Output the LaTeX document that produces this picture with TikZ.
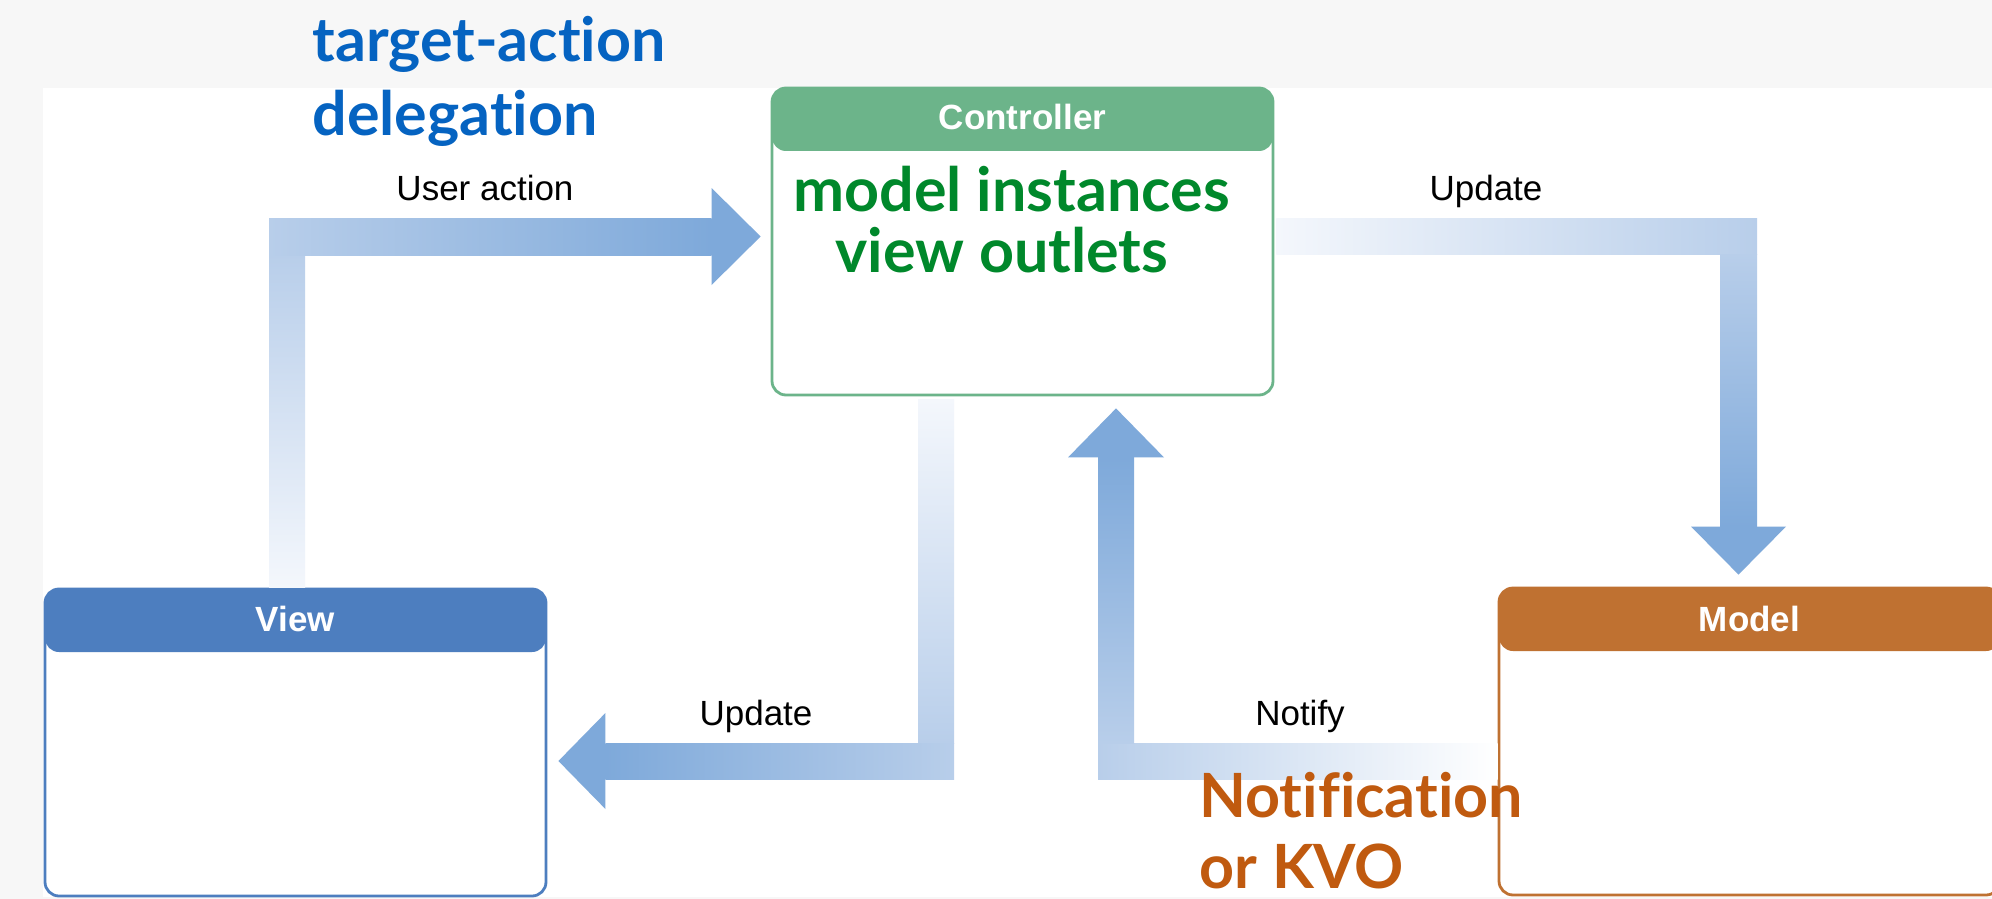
\documentclass[tikz,border=0pt]{standalone}
\usepackage{fontspec}
\setmainfont{Liberation Sans}
\newfontfamily\gill[Ligatures=NoCommon]{Lato}
\usepackage{tikz}
\usetikzlibrary{calc, positioning}
\definecolor{pagegray}{HTML}{F7F7F7}
\definecolor{ctrlgreen}{HTML}{6CB48A}
\definecolor{viewblue}{HTML}{4D7EBF}
\definecolor{modelorange}{HTML}{BF7131}
\definecolor{noteblue}{HTML}{0563C1}
\definecolor{notegreen}{HTML}{00882B}
\definecolor{noteorange}{HTML}{C05A0F}
\definecolor{arrowhead}{HTML}{7EA9DA}
\definecolor{arrowmid}{HTML}{B8CEEA}
\definecolor{arrowpale}{HTML}{F4F7FC}
\tikzset{box/.style={draw=#1, line width=1.4pt, fill=white, rounded corners=7pt,
	minimum width=250.5pt, minimum height=153.5pt,
	path picture={\fill[#1] (path picture bounding box.north west) rectangle ([yshift=-31.5pt]path picture bounding box.north east);}}}
\tikzset{note/.style={text=#1, font=\gill\bfseries\fontsize{30.5}{36}\selectfont, anchor=base west, inner sep=0pt}}
\tikzstyle{head}=[text=white, font=\bfseries\fontsize{17.5}{21}\selectfont, anchor=base, inner sep=0pt]
\tikzstyle{tag}=[font=\fontsize{17.5}{21}\selectfont, anchor=base, inner sep=0pt]
\tikzstyle{tip}=[fill=arrowhead]

\begin{document}
\begin{tikzpicture}[x=0.5pt, y=-0.5pt]
		\useasboundingbox (0,0) rectangle (1992,899);
		\fill[pagegray] (0,0) rectangle (1992,899);
		\fill[white] (43,88) rectangle (1992,897);
		%---------------------
		\node[box=ctrlgreen] (ctrl) at (1022.5,241.5) {};
		\node[box=viewblue] (view) at (295.5,742.5) {};
		\node[box=modelorange] (model) at (1749.5,741.5) {};
		\node[head] (ctrlhead) at ([yshift=-21.5pt]ctrl.north) {Controller};
		\node[head] (viewhead) at ([yshift=-22pt]view.north) {View};
		\node[head] (modelhead) at ([yshift=-22.5pt]model.north) {Model};
		%---------------------
		% user action: view -> controller
		\coordinate (ua1) at ($(view.north)+(-8.5,0)$);
		\coordinate (ua2) at ($(ua1 |- ctrl.west)+(0,-5)$);
		\coordinate (ua3) at ($(ctrl.west)+(-10,-5)$);
		\shade[bottom color=arrowpale, top color=arrowmid] ($(ua1)+(-18,0)$) rectangle ($(ua2)+(18,18)$);
		\shade[left color=arrowmid, right color=arrowhead] ($(ua2)+(-18,-18.5)$) rectangle ($(ua3)+(-49,18.5)$);
		\fill[tip] ($(ua3)+(-49,-48.5)$) -- (ua3) -- ($(ua3)+(-49,48.5)$) -- cycle;
		% update: controller -> model
		\coordinate (cm1) at ($(ctrl.east)+(2,-5)$);
		\coordinate (cm2) at ($(cm1 -| model.north)+(-11,0)$);
		\coordinate (cm3) at ($(model.north)+(-11,-12)$);
		\shade[left color=arrowpale, right color=arrowmid] ($(cm1)+(0,-18)$) rectangle ($(cm2)+(18.5,18)$);
		\shade[top color=arrowmid, bottom color=arrowhead] ($(cm2)+(-18.5,18)$) rectangle ($(cm3)+(18.5,-48)$);
		\fill[tip] ($(cm3)+(-47.5,-48)$) -- (cm3) -- ($(cm3)+(47.5,-48)$) -- cycle;
		% update: controller -> view
		\coordinate (cv1) at ($(ctrl.south)+(-86.5,3)$);
		\coordinate (cv2) at ($(cv1 |- view.east)+(0,18.5)$);
		\coordinate (cv3) at ($(view.east)+(11,18.5)$);
		\shade[top color=arrowpale, bottom color=arrowmid] ($(cv1)+(-18,0)$) rectangle ($(cv2)+(18,-18)$);
		\shade[left color=arrowhead, right color=arrowmid] ($(cv3)+(47,-18)$) rectangle ($(cv2)+(18,18)$);
		\fill[tip] ($(cv3)+(47,-48)$) -- (cv3) -- ($(cv3)+(47,48)$) -- cycle;
		% notify: model -> controller
		\coordinate (mc1) at ($(model.west)+(0,19.5)$);
		\coordinate (mc2) at ($(mc1 -| ctrl.south)+(93.5,0)$);
		\coordinate (mc3) at ($(ctrl.south)+(93.5,12)$);
		\shade[left color=arrowmid, right color=white] ($(mc2)+(-18,-18)$) rectangle ($(mc1)+(0,18)$);
		\shade[top color=arrowhead, bottom color=arrowmid] ($(mc2)+(-18,-18)$) rectangle ($(mc3)+(18,49)$);
		\fill[tip] ($(mc3)+(-48,49)$) -- (mc3) -- ($(mc3)+(48,49)$) -- cycle;
		%---------------------
		\node[tag] (uatext) at (485,200) {User action};
		\node[tag] (cmtext) at (1486,200) {Update};
		\node[tag] (cvtext) at (756,725) {Update};
		\node[tag] (mctext) at (1300,725) {Notify};
		\node[note=noteblue] (tatext) at (312,62) {target-action};
		\node[note=noteblue] (dgtext) at (312,135) {delegation};
		\node[note=notegreen] (mitext) at (793,212) {model instances};
		\node[note=notegreen] (votext) at (835,272) {view outlets};
		\node[note=noteorange] (nftext) at (1199,817) {Notification};
		\node[note=noteorange] (kvotext) at (1199,888) {or KVO};
	\end{tikzpicture}
\end{document}
